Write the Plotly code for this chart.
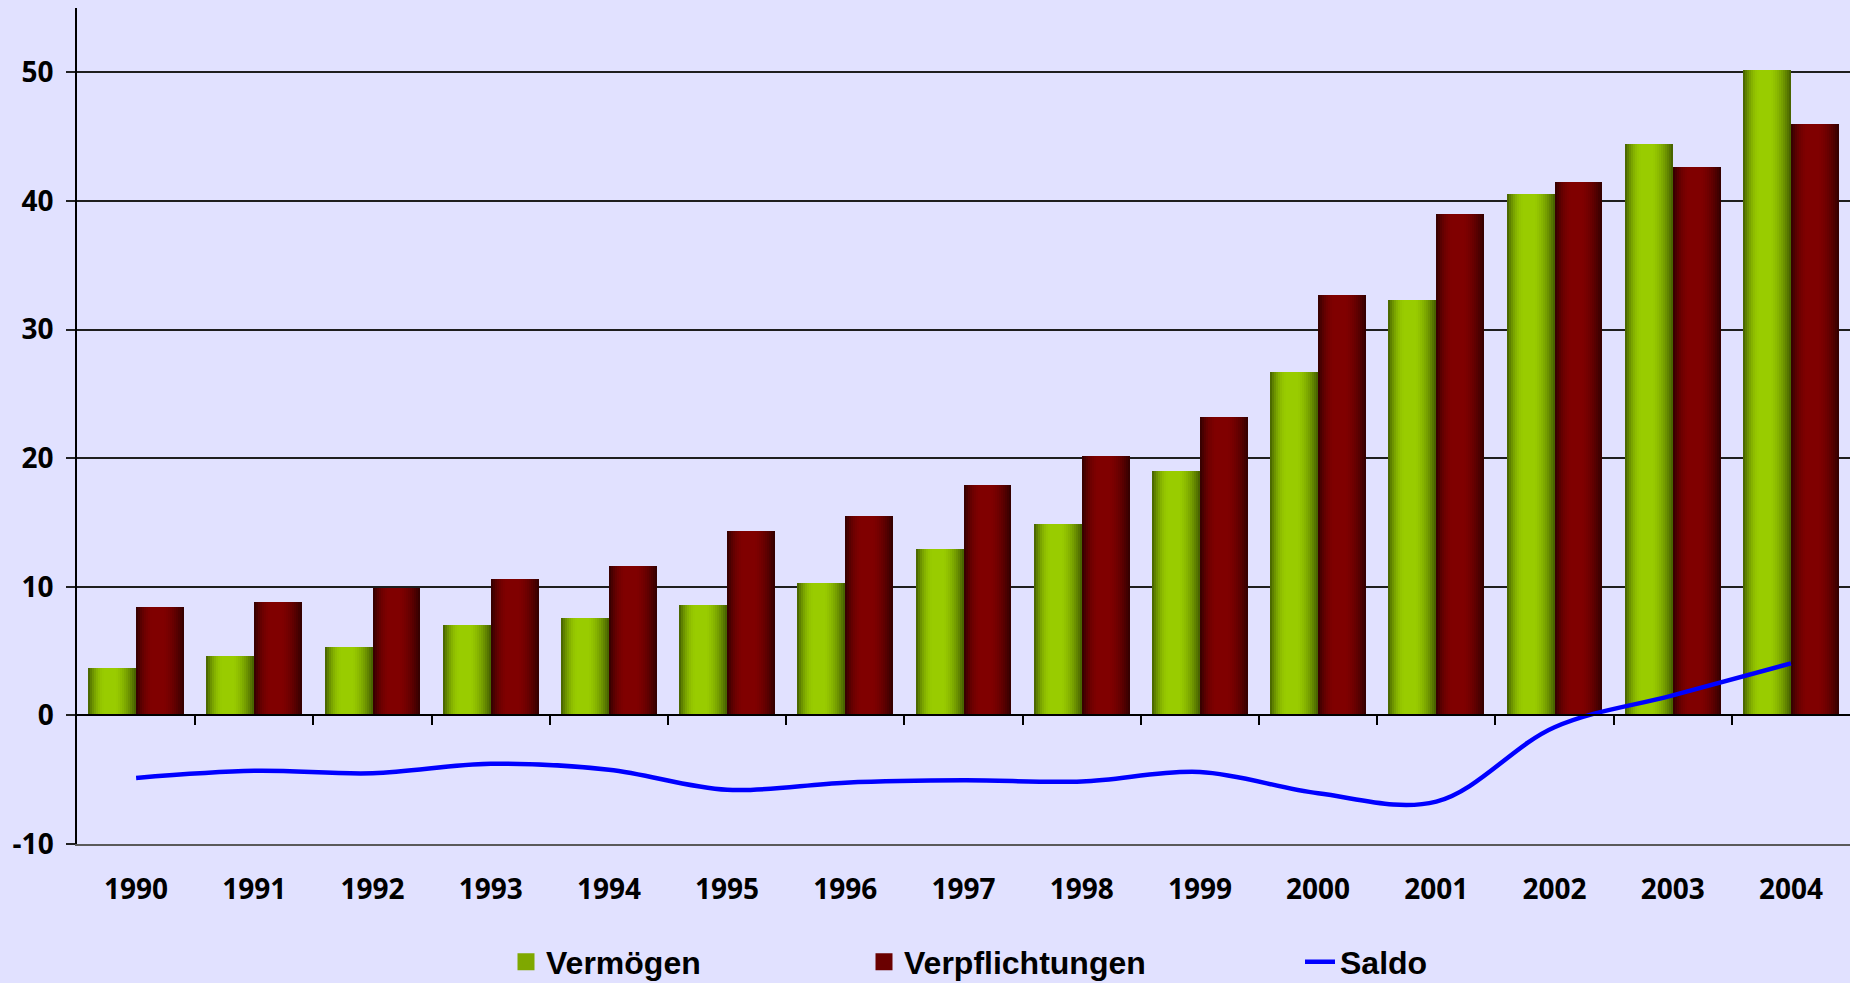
import plotly.graph_objects as go

# ---------------- data ----------------
years = list(range(1990, 2005))
vermoegen = [3.67, 4.6, 5.32, 7.0, 7.6, 8.6, 10.3, 12.9, 14.9, 19.0, 26.7, 32.3, 40.55, 44.4, 50.2]
verpflichtungen = [8.4, 8.85, 9.9, 10.64, 11.65, 14.3, 15.5, 17.9, 20.2, 23.2, 32.66, 39.0, 41.45, 42.6, 46.0]
saldo = [-4.86, -4.31, -4.5, -3.76, -4.22, -5.78, -5.23, -5.05, -5.14, -4.4, -6.06, -6.7, -0.92, 1.56, 4.04]
tick_labels = [str(y) for y in years]
y_ticks = [-10, 0, 10, 20, 30, 40, 50]
y_tick_labels = [str(v) for v in y_ticks]
series_names = ["Vermögen", "Verpflichtungen", "Saldo"]

# ---------------- style ----------------
BG = "#e1e1ff"
Y_MIN, Y_MAX = -10, 55
BAR_W = 0.406
N_STRIPS = 24


def profile(t):
    # brightness across a bar (0 = edge shade, 1 = highlight)
    if t < 0.36:
        u = t / 0.36
        return u * (2 - u)
    if t < 0.58:
        return 1.0
    u = (t - 0.58) / 0.42
    return 1 - u * u * 0.6 - u * 0.4


def mix(c1, c2, a):
    return "rgb(%d,%d,%d)" % tuple(round(c1[i] + (c2[i] - c1[i]) * a) for i in range(3))


fig = go.Figure()


def add_gradient_bars(values, offset0, dark, bright, name, legend, legend_col):
    s = BAR_W / N_STRIPS
    for k in range(N_STRIPS):
        t = (k + 0.5) / N_STRIPS
        col = mix(dark, bright, profile(t))
        fig.add_trace(go.Bar(
            x=years, y=values,
            offset=offset0 + k * s, width=BAR_W - k * s,
            marker=dict(color=col, line=dict(width=0)),
            name=name, legendgroup=name, showlegend=False,
            hoverinfo="x+y+name" if k == 0 else "skip",
        ))
    # legend entry (no marks of its own)
    fig.add_trace(go.Bar(
        x=[None], y=[None], name=name, legendgroup=name, legend=legend,
        marker=dict(color=legend_col, line=dict(width=5, color=legend_col)),
        showlegend=True,
    ))


add_gradient_bars(vermoegen, -BAR_W, (66, 92, 0), (153, 204, 0), series_names[0], "legend", "#7fa800")
add_gradient_bars(verpflichtungen, 0.0, (48, 0, 0), (128, 0, 0), series_names[1], "legend2", "#6a0000")

fig.add_trace(go.Scatter(
    x=years, y=saldo, mode="lines", name=series_names[2],
    line=dict(color="#0000ff", width=4.5, shape="spline", smoothing=1.0),
    xaxis="x2", legend="legend3",
))

tick_font = dict(family="Open Sans", size=28, color="black", weight="bold")
leg_font = dict(family="Liberation Sans", size=32, color="black", weight="bold")

plot_left, plot_w = 77, 1850 - 77


def px_to_paper_x(px):
    return (px - plot_left) / plot_w


leg_y = -(962 - 844) / 836


def legend_at(px):
    return dict(x=px_to_paper_x(px), y=leg_y, xanchor="left", yanchor="middle",
                orientation="h", bgcolor="rgba(0,0,0,0)", font=leg_font,
                itemclick=False, itemdoubleclick=False)


fig.update_layout(
    width=1850, height=983,
    margin=dict(l=plot_left, r=0, t=8, b=139, autoexpand=False),
    paper_bgcolor=BG, plot_bgcolor=BG,
    barmode="overlay", bargap=0,
    showlegend=True,
    legend=legend_at(506),
    legend2=legend_at(864),
    legend3=legend_at(1300),
    xaxis=dict(
        range=[years[0] - 0.5, years[-1] + 0.5],
        tickvals=years, ticktext=tick_labels,
        tickfont=tick_font, ticks="", ticklabelstandoff=19,
        showline=True, linecolor="#5a5a5a", linewidth=2,
        showgrid=False, zeroline=False,
    ),
    xaxis2=dict(
        matches="x", overlaying="x", anchor="free",
        position=(0 - Y_MIN) / (Y_MAX - Y_MIN),
        tickvals=[y + 0.5 for y in years[:-1]],
        ticks="outside", ticklen=9, tickwidth=1.5, tickcolor="black",
        showticklabels=False, showline=True, linecolor="black", linewidth=1.5,
        showgrid=False, zeroline=False,
    ),
    yaxis=dict(
        range=[Y_MIN, Y_MAX], tickvals=y_ticks, ticktext=y_tick_labels,
        tickfont=tick_font, ticks="outside", ticklen=9, tickwidth=1.5,
        tickcolor="#222222", ticklabelstandoff=7,
        showline=True, linecolor="black", linewidth=1.5,
        showgrid=True, gridcolor="#1e1e1e", gridwidth=1.5, zeroline=False,
    ),
)

fig.write_html(
    "out.html",
    config={"displayModeBar": False},
    post_script="document.body.style.margin='0';document.body.style.overflow='hidden';"
                "document.documentElement.style.background='" + BG + "';",
)
